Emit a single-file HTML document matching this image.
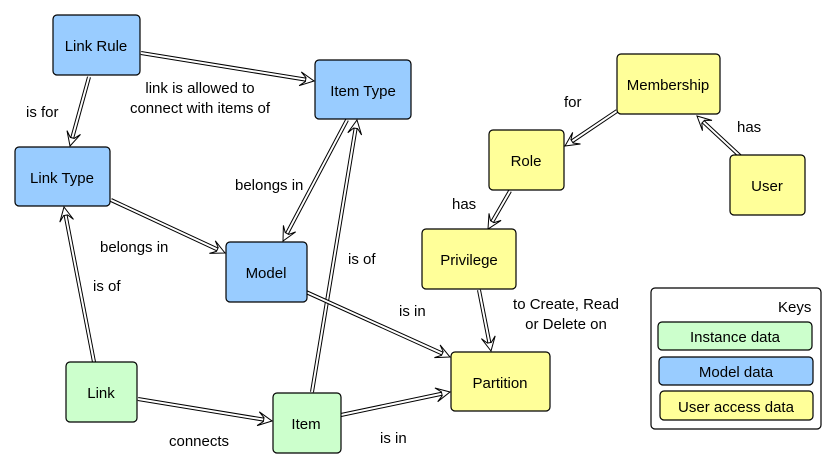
<!DOCTYPE html>
<html><head><meta charset="utf-8"><style>
html,body{margin:0;padding:0;background:#fff;}
svg text{font-family:"Liberation Sans",sans-serif;font-size:15px;fill:#000;}
</style></head><body>
<svg id="s" width="837" height="469" viewBox="0 0 837 469" xmlns="http://www.w3.org/2000/svg">
<g id="lines"></g>
<g stroke="#000" stroke-width="1.2">
<rect x="53" y="15" width="87" height="60" rx="4" fill="#99ccff"/>
<rect x="315" y="60" width="96" height="59" rx="4" fill="#99ccff"/>
<rect x="15" y="147" width="95" height="59" rx="4" fill="#99ccff"/>
<rect x="226" y="242" width="81" height="60" rx="4" fill="#99ccff"/>
<rect x="617" y="54" width="103" height="60" rx="4" fill="#ffff99"/>
<rect x="489" y="130" width="75" height="60" rx="4" fill="#ffff99"/>
<rect x="730" y="155" width="75" height="60" rx="4" fill="#ffff99"/>
<rect x="422" y="229" width="94" height="60" rx="4" fill="#ffff99"/>
<rect x="451" y="352" width="99" height="59" rx="4" fill="#ffff99"/>
<rect x="66" y="362" width="71" height="60" rx="4" fill="#ccffcc"/>
<rect x="273" y="393" width="68" height="60" rx="4" fill="#ccffcc"/>
<rect x="651" y="288" width="170" height="141" rx="4" fill="#fff"/>
<rect x="658" y="322" width="154" height="28" rx="4" fill="#ccffcc"/>
<rect x="659" y="357" width="154" height="28" rx="4" fill="#99ccff"/>
<rect x="660" y="391" width="153" height="29" rx="4" fill="#ffff99"/>
</g>
<g text-anchor="middle">
<text x="96" y="51">Link Rule</text>
<text x="363" y="96">Item Type</text>
<text x="62" y="183">Link Type</text>
<text x="266" y="278">Model</text>
<text x="668" y="90">Membership</text>
<text x="526" y="166">Role</text>
<text x="767" y="191">User</text>
<text x="469" y="265">Privilege</text>
<text x="500" y="388">Partition</text>
<text x="101" y="398">Link</text>
<text x="306" y="429">Item</text>
<text x="735" y="342">Instance data</text>
<text x="736" y="377">Model data</text>
<text x="736" y="412">User access data</text>
<text x="200" y="93">link is allowed to</text>
<text x="200" y="113">connect with items of</text>
<text x="566" y="309">to Create, Read</text>
<text x="566" y="329">or Delete on</text>
</g>
<text x="778" y="312">Keys</text>
<text x="26" y="117">is for</text>
<text x="235" y="190">belongs in</text>
<text x="100" y="252">belongs in</text>
<text x="93" y="291">is of</text>
<text x="348" y="264">is of</text>
<text x="399" y="316">is in</text>
<text x="169" y="446">connects</text>
<text x="380" y="443">is in</text>
<text x="564" y="107">for</text>
<text x="737" y="132">has</text>
<text x="452" y="209">has</text>
</svg>
<script>
var conns=[[141,53,314,81],[89,77,70,146],[111,200,225,253],[347,120,283,241],[312,392,357,120],[94,362,64,207],[138,399,272,421],[306,292,450,357],[341,415,450,392],[479,290,491,351],[617,111,565,146],[740,156,697,116],[510,191,488,229]];
var g=document.getElementById('lines'),ns='http://www.w3.org/2000/svg';
function el(t,a){var e=document.createElementNS(ns,t);for(var k in a)e.setAttribute(k,a[k]);g.appendChild(e);}
conns.forEach(function(c){
 var x1=c[0],y1=c[1],x2=c[2],y2=c[3],dx=x2-x1,dy=y2-y1,L=Math.hypot(dx,dy),ux=dx/L,uy=dy/L,px=-uy,py=ux;
 var hl=14,hw=7,bx=x2-ux*hl,by=y2-uy*hl,nx=x2-ux*(hl*0.6),ny=y2-uy*(hl*0.6);
 el('line',{x1:x1,y1:y1,x2:nx,y2:ny,stroke:'#000','stroke-width':4});
 el('line',{x1:x1,y1:y1,x2:nx,y2:ny,stroke:'#fff','stroke-width':2});
 var pts=[[x2,y2],[bx+px*hw,by+py*hw],[nx+px*2,ny+py*2],[nx-px*2,ny-py*2],[bx-px*hw,by-py*hw]];
 el('polygon',{points:pts.map(function(p){return p[0].toFixed(1)+','+p[1].toFixed(1)}).join(' '),fill:'#fff',stroke:'#000','stroke-width':1});
});
</script>
</body></html>
